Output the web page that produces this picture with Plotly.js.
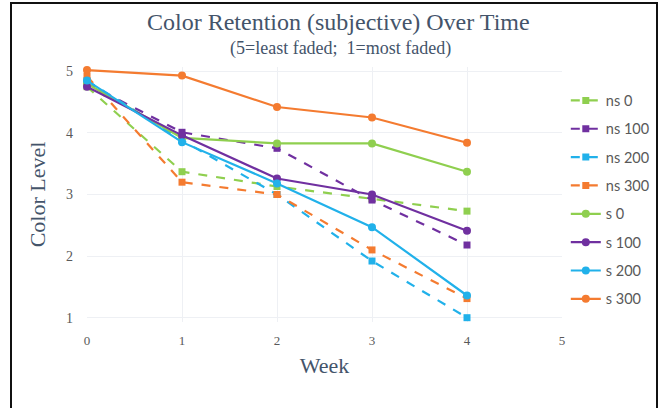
<!DOCTYPE html>
<html>
<head>
<meta charset="utf-8">
<script src="https://cdn.plot.ly/plotly-3.0.1.min.js"></script>
<style>
  html, body { margin: 0; padding: 0; background: #ffffff; }
  #wrap { position: relative; width: 668px; height: 408px; overflow: hidden; }
  #chart { position: absolute; left: 0; top: 0; width: 668px; height: 408px; }
  #frame {
    position: absolute; left: 10px; top: 2px; width: 648px; height: 430px;
    border: 2px solid #111; box-sizing: border-box; pointer-events: none;
  }
</style>
</head>
<body>
<div id="wrap">
  <div id="chart"></div>
  <div id="frame"></div>
</div>
<script>
// Weeks of exposure
const weeks = [0, 1, 2, 3, 4];

// Subjective colour level per sample (5 = least faded, 1 = most faded)
const ns0   = [4.75, 3.37, 3.13, 2.93, 2.73];
const ns100 = [4.80, 4.01, 3.75, 2.91, 2.18];
const ns200 = [4.85, 3.88, 3.00, 1.92, 1.00];
const ns300 = [4.92, 3.20, 3.00, 2.10, 1.31];
const s0    = [4.80, 3.92, 3.83, 3.83, 3.37];
const s100  = [4.75, 3.96, 3.26, 3.00, 2.41];
const s200  = [4.85, 3.85, 3.18, 2.47, 1.36];
const s300  = [5.02, 4.93, 4.42, 4.25, 3.84];

const seriesNames = ['ns 0', 'ns 100', 'ns 200', 'ns 300', 's 0', 's 100', 's 200', 's 300'];
const seriesData  = [ns0, ns100, ns200, ns300, s0, s100, s200, s300];

const titleText = 'Color Retention (subjective) Over Time';
const subtitleText = '(5=least faded;  1=most faded)';

const GREEN = '#8FCF4F', PURPLE = '#7030A0', BLUE = '#21B1EA', ORANGE = '#F47B30';
const palette = [GREEN, PURPLE, BLUE, ORANGE, GREEN, PURPLE, BLUE, ORANGE];

const traces = seriesNames.map((name, i) => {
  const dashed = name.startsWith('ns');
  return {
    x: weeks,
    y: seriesData[i],
    name: name,
    legendgroup: name,
    type: 'scatter',
    mode: 'lines+markers',
    cliponaxis: false,
    line: { color: palette[i], width: 2.2, dash: dashed ? 'dash' : 'solid' },
    marker: { color: palette[i], size: dashed ? 7 : 8, symbol: dashed ? 'square' : 'circle' }
  };
});

const serif = 'Liberation Serif, DejaVu Serif, serif';
const slate = '#44546A';
const tickGray = '#595959';

const layout = {
  width: 668,
  height: 408,
  paper_bgcolor: '#ffffff',
  plot_bgcolor: '#ffffff',
  margin: { l: 87, r: 106, t: 67, b: 86 },
  showlegend: true,
  legend: {
    xref: 'container', yref: 'container',
    x: 0.847, xanchor: 'left',
    y: 0.793, yanchor: 'top',
    traceorder: 'grouped',
    tracegroupgap: 6.5,
    maxheight: 400,
    font: { family: 'Lato, Liberation Sans, Arial, sans-serif', size: 14.5, color: tickGray },
    bgcolor: 'rgba(0,0,0,0)',
    itemwidth: 30
  },
  xaxis: {
    range: [0, 5],
    tickvals: [0, 1, 2, 3, 4, 5],
    showgrid: true,
    gridcolor: '#EEF0F4',
    zeroline: false,
    showline: false,
    ticks: '',
    ticklabelstandoff: 9,
    tickfont: { family: serif, size: 13, color: tickGray },
    title: { text: 'Week', font: { family: serif, size: 22, color: slate }, standoff: 10 }
  },
  yaxis: {
    range: [0.93, 5.07],
    tickvals: [1, 2, 3, 4, 5],
    showgrid: true,
    gridcolor: '#EEF0F4',
    zeroline: false,
    showline: false,
    ticks: '',
    ticklabelstandoff: 13,
    tickfont: { family: serif, size: 14, color: tickGray },
    title: { text: 'Color Level', font: { family: serif, size: 22, color: slate }, standoff: 14 }
  },
  annotations: [
    {
      text: titleText, xref: 'paper', yref: 'paper', x: 0.529, y: 1.0, yshift: 45,
      xanchor: 'center', yanchor: 'middle', showarrow: false,
      font: { family: serif, size: 24, color: slate }
    },
    {
      text: subtitleText, xref: 'paper', yref: 'paper', x: 0.533, y: 1.0, yshift: 19,
      xanchor: 'center', yanchor: 'middle', showarrow: false,
      font: { family: serif, size: 18, color: slate }
    }
  ]
};

Plotly.newPlot('chart', traces, layout, { staticPlot: true, displayModeBar: false });
</script>
</body>
</html>
